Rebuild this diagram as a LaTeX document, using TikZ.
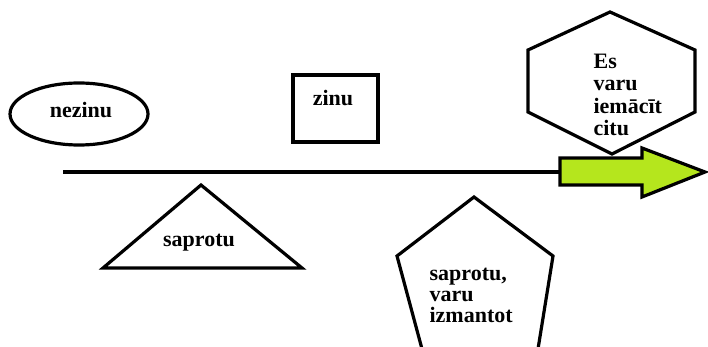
\documentclass[tikz,border=0pt]{standalone}
\usepackage{fontspec}
\setmainfont{Liberation Serif}
\definecolor{arrowgreen}{HTML}{B5E61D}
\begin{document}
\begin{tikzpicture}[x=1pt,y=-1pt,line width=3.2pt,
  every node/.style={font=\bfseries\fontsize{22}{22.5}\selectfont,inner sep=0pt}]
    \useasboundingbox (0,0) rectangle (708,347);

    \draw (79,114) ellipse [x radius=69, y radius=31];
    \node[anchor=base] (nezinu) at (81,118) {nezinu};

    \draw (293,75) rectangle (378,142);
    \node[anchor=base] (zinu) at (333,106) {zinu};

    \draw (63,172) -- (562,172);
    \draw[fill=arrowgreen] (560,158) -- (642,158) -- (642,148) -- (705,172) -- (642,197) -- (642,185) -- (560,185) -- cycle;

    \draw (528,50) -- (610,12) -- (695,50) -- (695,112) -- (612,154) -- (528,112) -- cycle;
    \node[anchor=north west, align=left] (macit) at (592,52) {Es\\varu\\iemācīt\\citu};

    \draw (201,185) -- (302,268) -- (103,268) -- cycle;
    \node[anchor=base] (saprotu) at (199,246) {saprotu};

    \draw (422,349) -- (397,256) -- (474,197) -- (553,256) -- (538,349);
    \node[anchor=north west, align=left, font=\bfseries\fontsize{22}{21}\selectfont] (izmantot) at (428,267) {saprotu,\\varu\\izmantot};
\end{tikzpicture}
\end{document}
